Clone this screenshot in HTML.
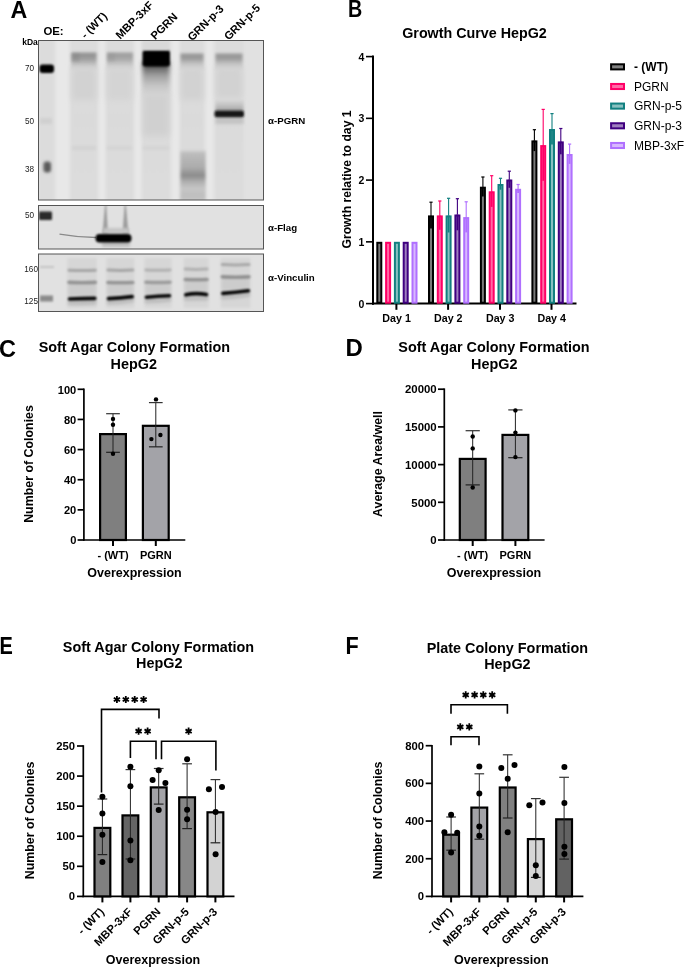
<!DOCTYPE html>
<html><head><meta charset="utf-8"><style>
html,body{margin:0;padding:0;background:#fff;}
body{width:685px;height:967px;overflow:hidden;}
svg{display:block;font-family:"Liberation Sans", sans-serif;will-change:transform;}
</style></head><body>
<svg width="685" height="967" viewBox="0 0 685 967" font-family='"Liberation Sans", sans-serif'>
<rect width="685" height="967" fill="#fff"/>
<text transform="translate(10.4,17.7) scale(0.99,1)" font-size="23.5" font-weight="bold">A</text>
<text transform="translate(348.0,16.8) scale(0.84,1)" font-size="23.5" font-weight="bold">B</text>
<text transform="translate(-1.1,357.0) scale(1.0,1)" font-size="23.5" font-weight="bold">C</text>
<text transform="translate(345.6,355.8) scale(1.02,1)" font-size="23.5" font-weight="bold">D</text>
<text transform="translate(-0.6,653.9) scale(0.85,1)" font-size="23.5" font-weight="bold">E</text>
<text transform="translate(345.6,653.9) scale(0.92,1)" font-size="23.5" font-weight="bold">F</text>
<defs><filter id="b1" filterUnits="userSpaceOnUse" x="0" y="0" width="685" height="967"><feGaussianBlur stdDeviation="1"/></filter><filter id="b2" filterUnits="userSpaceOnUse" x="0" y="0" width="685" height="967"><feGaussianBlur stdDeviation="2"/></filter><filter id="b3" filterUnits="userSpaceOnUse" x="0" y="0" width="685" height="967"><feGaussianBlur stdDeviation="3.5"/></filter><filter id="b05" filterUnits="userSpaceOnUse" x="0" y="0" width="685" height="967"><feGaussianBlur stdDeviation="0.6"/></filter><clipPath id="c1"><rect x="38.5" y="40.5" width="225" height="159.5"/></clipPath><clipPath id="c2"><rect x="38.5" y="205.5" width="225" height="43.5"/></clipPath><clipPath id="c3"><rect x="38.5" y="254" width="225" height="57.5"/></clipPath></defs>
<defs><filter id="g0_5" filterUnits="userSpaceOnUse" x="0" y="0" width="685" height="967"><feGaussianBlur stdDeviation="0.5"/></filter><filter id="g0_8" filterUnits="userSpaceOnUse" x="0" y="0" width="685" height="967"><feGaussianBlur stdDeviation="0.8"/></filter><filter id="g1_0" filterUnits="userSpaceOnUse" x="0" y="0" width="685" height="967"><feGaussianBlur stdDeviation="1.0"/></filter><filter id="g1_5" filterUnits="userSpaceOnUse" x="0" y="0" width="685" height="967"><feGaussianBlur stdDeviation="1.5"/></filter><filter id="g2_0" filterUnits="userSpaceOnUse" x="0" y="0" width="685" height="967"><feGaussianBlur stdDeviation="2.0"/></filter><filter id="g3_0" filterUnits="userSpaceOnUse" x="0" y="0" width="685" height="967"><feGaussianBlur stdDeviation="3.0"/></filter><filter id="g4_0" filterUnits="userSpaceOnUse" x="0" y="0" width="685" height="967"><feGaussianBlur stdDeviation="4.0"/></filter></defs>
<rect x="38.5" y="40.5" width="225" height="159.5" fill="#e1e1e1" stroke="none" stroke-width="0" />
<g clip-path="url(#c1)">
<defs><linearGradient id="ln" x1="0" y1="0" x2="0" y2="1"><stop offset="0" stop-color="#dcdcdc"/><stop offset="0.5" stop-color="#dadada"/><stop offset="1" stop-color="#dcdcdc"/></linearGradient></defs>
<rect x="70.5" y="38" width="27.0" height="165" rx="0" fill="url(#ln)" opacity="1" filter="url(#g1_5)"/>
<rect x="106" y="38" width="27.5" height="165" rx="0" fill="url(#ln)" opacity="1" filter="url(#g1_5)"/>
<rect x="142" y="38" width="28" height="165" rx="0" fill="url(#ln)" opacity="1" filter="url(#g1_5)"/>
<rect x="180" y="38" width="24" height="165" rx="0" fill="url(#ln)" opacity="1" filter="url(#g1_5)"/>
<rect x="215" y="38" width="28.5" height="165" rx="0" fill="url(#ln)" opacity="1" filter="url(#g1_5)"/>
<rect x="56" y="38" width="13" height="165" rx="0" fill="#e8e8e8" opacity="1" filter="url(#g1_5)"/>
<rect x="99" y="38" width="6" height="165" rx="0" fill="#e8e8e8" opacity="1" filter="url(#g1_5)"/>
<rect x="135" y="38" width="6" height="165" rx="0" fill="#e8e8e8" opacity="1" filter="url(#g1_5)"/>
<rect x="172" y="38" width="7" height="165" rx="0" fill="#e8e8e8" opacity="1" filter="url(#g1_5)"/>
<rect x="206" y="38" width="7" height="165" rx="0" fill="#e8e8e8" opacity="1" filter="url(#g1_5)"/>
<rect x="39" y="38" width="15" height="165" rx="0" fill="#dcdcdc" opacity="1" filter="url(#g1_5)"/>
<defs><filter id="g1_1" filterUnits="userSpaceOnUse" x="0" y="0" width="685" height="967"><feGaussianBlur stdDeviation="1.1"/></filter></defs>
<rect x="39.5" y="64.5" width="14.5" height="8.5" rx="3" fill="#000" opacity="1" filter="url(#g1_1)"/>
<rect x="40" y="118" width="12" height="6" rx="0" fill="#d0d0d0" opacity="1" filter="url(#g1_5)"/>
<defs><filter id="g1_6" filterUnits="userSpaceOnUse" x="0" y="0" width="685" height="967"><feGaussianBlur stdDeviation="1.6"/></filter></defs>
<rect x="43.5" y="161.5" width="7.5" height="11" rx="3" fill="#5a5a5a" opacity="1" filter="url(#g1_6)"/>
<defs><linearGradient id="sm1" x1="0" y1="0" x2="0" y2="1"><stop offset="0" stop-color="#929292"/><stop offset="0.3" stop-color="#989898"/><stop offset="0.55" stop-color="#b4b4b4"/><stop offset="0.8" stop-color="#cecece"/><stop offset="1" stop-color="#d8d8d8"/></linearGradient></defs>
<rect x="71.5" y="52.5" width="25" height="18" rx="0" fill="url(#sm1)" opacity="1" filter="url(#g1_6)"/>
<defs><filter id="g1_8" filterUnits="userSpaceOnUse" x="0" y="0" width="685" height="967"><feGaussianBlur stdDeviation="1.8"/></filter></defs>
<rect x="71.5" y="53.5" width="8" height="8" rx="0" fill="#7a7a7a" opacity="0.3" filter="url(#g1_8)"/>
<defs><linearGradient id="sm2" x1="0" y1="0" x2="0" y2="1"><stop offset="0" stop-color="#9e9e9e"/><stop offset="0.3" stop-color="#a4a4a4"/><stop offset="0.55" stop-color="#bcbcbc"/><stop offset="0.8" stop-color="#d0d0d0"/><stop offset="1" stop-color="#d8d8d8"/></linearGradient></defs>
<rect x="107" y="52.5" width="26" height="18" rx="0" fill="url(#sm2)" opacity="1" filter="url(#g1_6)"/>
<rect x="107" y="53.5" width="8" height="8" rx="0" fill="#8a8a8a" opacity="0.25" filter="url(#g1_8)"/>
<rect x="72" y="68" width="24" height="32" rx="0" fill="#d2d2d2" opacity="1" filter="url(#g3_0)"/>
<rect x="107" y="68" width="25" height="32" rx="0" fill="#d4d4d4" opacity="1" filter="url(#g3_0)"/>
<rect x="72" y="146" width="24" height="4" rx="0" fill="#d2d2d2" opacity="1" filter="url(#g1_5)"/>
<rect x="107" y="146" width="25" height="4" rx="0" fill="#d4d4d4" opacity="1" filter="url(#g1_5)"/>
<rect x="143" y="146" width="26" height="4" rx="0" fill="#d4d4d4" opacity="1" filter="url(#g1_5)"/>
<defs><linearGradient id="sm3" x1="0" y1="0" x2="0" y2="1"><stop offset="0" stop-color="#3a3a3a"/><stop offset="0.15" stop-color="#606060"/><stop offset="0.4" stop-color="#a0a0a0"/><stop offset="0.7" stop-color="#c6c6c6"/><stop offset="1" stop-color="#d6d6d6"/></linearGradient></defs>
<rect x="142.5" y="62" width="27" height="34" rx="0" fill="url(#sm3)" opacity="1" filter="url(#g2_0)"/>
<rect x="143" y="94" width="26" height="42" rx="0" fill="#d0d0d0" opacity="1" filter="url(#g3_0)"/>
<defs><filter id="g1_2" filterUnits="userSpaceOnUse" x="0" y="0" width="685" height="967"><feGaussianBlur stdDeviation="1.2"/></filter></defs>
<rect x="142.5" y="50" width="27.5" height="16.5" rx="3" fill="#000" opacity="1" filter="url(#g1_2)"/>
<rect x="143" y="41" width="26" height="9" rx="0" fill="#d8d8d8" opacity="1" filter="url(#g1_5)"/>
<defs><linearGradient id="sm4" x1="0" y1="0" x2="0" y2="1"><stop offset="0" stop-color="#959595"/><stop offset="0.3" stop-color="#9c9c9c"/><stop offset="0.55" stop-color="#bcbcbc"/><stop offset="0.8" stop-color="#cecece"/><stop offset="1" stop-color="#d8d8d8"/></linearGradient></defs>
<rect x="180.5" y="53.5" width="23" height="17" rx="0" fill="url(#sm4)" opacity="1" filter="url(#g1_6)"/>
<rect x="181" y="68" width="22" height="32" rx="0" fill="#d2d2d2" opacity="1" filter="url(#g3_0)"/>
<defs><linearGradient id="sm4b" x1="0" y1="0" x2="0" y2="1"><stop offset="0" stop-color="#d8d8d8"/><stop offset="0.06" stop-color="#bcbcbc"/><stop offset="0.35" stop-color="#ababab"/><stop offset="0.5" stop-color="#8a8a8a"/><stop offset="0.62" stop-color="#aeaeae"/><stop offset="0.75" stop-color="#c6c6c6"/><stop offset="0.9" stop-color="#bebebe"/><stop offset="1" stop-color="#c6c6c6"/></linearGradient></defs>
<rect x="180.5" y="150" width="25" height="51" rx="0" fill="url(#sm4b)" opacity="1" filter="url(#g1_5)"/>
<rect x="215.5" y="53.5" width="27" height="17" rx="0" fill="url(#sm4)" opacity="1" filter="url(#g1_6)"/>
<rect x="216" y="68" width="26" height="30" rx="0" fill="#d2d2d2" opacity="1" filter="url(#g3_0)"/>
<defs><linearGradient id="sm5" x1="0" y1="0" x2="0" y2="1"><stop offset="0" stop-color="#d8d8d8"/><stop offset="0.5" stop-color="#c0c0c0"/><stop offset="1" stop-color="#a4a4a4"/></linearGradient></defs>
<rect x="215.5" y="100" width="28" height="11" rx="0" fill="url(#sm5)" opacity="1" filter="url(#g1_5)"/>
<rect x="215.5" y="117" width="28" height="7" rx="0" fill="#c4c4c4" opacity="1" filter="url(#g1_5)"/>
<defs><filter id="g1_3" filterUnits="userSpaceOnUse" x="0" y="0" width="685" height="967"><feGaussianBlur stdDeviation="1.3"/></filter></defs>
<rect x="214.5" y="110.5" width="29.5" height="6.8" rx="2" fill="#151515" opacity="1" filter="url(#g1_3)"/>
</g>
<rect x="38.5" y="40.5" width="225" height="159.5" fill="none" stroke="#555" stroke-width="1" />
<rect x="38.5" y="205.5" width="225" height="43.5" fill="#e1e1e1" stroke="none" stroke-width="0" />
<g clip-path="url(#c2)">
<rect x="39" y="211.5" width="13" height="8.5" rx="1" fill="#2a2a2a" opacity="1" filter="url(#g1_0)"/>
<path d="M59.5 234.2 Q78 237.5 96 237.5" stroke="#8a8a8a" stroke-width="1.3" fill="none" filter="url(#g0_5)"/>
<path d="M105 205 L106.3 205 L108 234 L102.5 234 Z" fill="#9c9c9c" filter="url(#g0_8)"/>
<path d="M124.6 205 L125.9 205 L128.5 234 L122.5 234 Z" fill="#9c9c9c" filter="url(#g0_8)"/>
<rect x="103" y="228" width="26" height="6" rx="0" fill="#c4c4c4" opacity="1" filter="url(#g1_5)"/>
<rect x="102" y="241" width="28" height="6" rx="0" fill="#c0c0c0" opacity="1" filter="url(#g1_5)"/>
<rect x="95.5" y="234" width="36" height="8.5" rx="4" fill="#000" filter="url(#g0_8)"/>
</g>
<rect x="38.5" y="205.5" width="225" height="43.5" fill="none" stroke="#555" stroke-width="1" />
<rect x="38.5" y="254" width="225" height="57.5" fill="#e1e1e1" stroke="none" stroke-width="0" />
<g clip-path="url(#c3)">
<rect x="40" y="295.5" width="13" height="6" rx="0" fill="#8a8a8a" opacity="1" filter="url(#g1_2)"/>
<rect x="40" y="266" width="14" height="2" rx="0" fill="#c4c4c4" opacity="1" filter="url(#g1_0)"/>
<rect x="67.5" y="258" width="29.299999999999997" height="50" rx="0" fill="#d6d6d6" opacity="1" filter="url(#g1_5)"/>
<rect x="68.5" y="284.4" width="27.299999999999997" height="12.300000000000011" rx="0" fill="#cccccc" opacity="1" filter="url(#g1_5)"/>
<path d="M69.0 270.2 Q82.15 271.0 95.3 270.2" stroke="#a4a4a4" stroke-width="3.0" fill="none" opacity="1" stroke-linecap="round" filter="url(#g1_1)"/>
<path d="M69.0 282.4 Q82.15 283.0 95.3 282.4" stroke="#939393" stroke-width="3.6" fill="none" opacity="1" stroke-linecap="round" filter="url(#g1_1)"/>
<path d="M69.5 303.0 Q82.15 303.6 94.8 302.4" stroke="#bcbcbc" stroke-width="4" fill="none" opacity="1" stroke-linecap="round" filter="url(#g1_5)"/>
<path d="M69.5 299.0 Q82.15 298.50000000000006 94.8 298.4" stroke="#000" stroke-width="3.6" fill="none" opacity="1" stroke-linecap="round" filter="url(#g0_8)"/>
<rect x="106.5" y="258" width="27.69999999999999" height="50" rx="0" fill="#d6d6d6" opacity="1" filter="url(#g1_5)"/>
<rect x="107.5" y="284.5" width="25.69999999999999" height="11.100000000000023" rx="0" fill="#cccccc" opacity="1" filter="url(#g1_5)"/>
<path d="M108.0 270.0 Q120.35 270.8 132.7 270.0" stroke="#a4a4a4" stroke-width="3.0" fill="none" opacity="1" stroke-linecap="round" filter="url(#g1_1)"/>
<path d="M108.0 282.5 Q120.35 283.1 132.7 282.5" stroke="#939393" stroke-width="3.6" fill="none" opacity="1" stroke-linecap="round" filter="url(#g1_1)"/>
<path d="M108.5 302.6 Q120.35 302.8 132.2 300.6" stroke="#bcbcbc" stroke-width="4" fill="none" opacity="1" stroke-linecap="round" filter="url(#g1_5)"/>
<path d="M108.5 298.6 Q120.35 298.0 132.2 296.6" stroke="#000" stroke-width="3.6" fill="none" opacity="1" stroke-linecap="round" filter="url(#g0_8)"/>
<rect x="144.4" y="258" width="27.099999999999994" height="50" rx="0" fill="#d6d6d6" opacity="1" filter="url(#g1_5)"/>
<rect x="145.4" y="284.2" width="25.099999999999994" height="10.300000000000011" rx="0" fill="#cccccc" opacity="1" filter="url(#g1_5)"/>
<path d="M145.9 269.9 Q157.95 270.7 170.0 269.9" stroke="#b0b0b0" stroke-width="3.0" fill="none" opacity="1" stroke-linecap="round" filter="url(#g1_1)"/>
<path d="M145.9 282.2 Q157.95 282.8 170.0 282.2" stroke="#9a9a9a" stroke-width="3.6" fill="none" opacity="1" stroke-linecap="round" filter="url(#g1_1)"/>
<path d="M146.4 301.2 Q157.95 301.4 169.5 299.8" stroke="#bcbcbc" stroke-width="4" fill="none" opacity="1" stroke-linecap="round" filter="url(#g1_5)"/>
<path d="M146.4 297.2 Q157.95 296.29999999999995 169.5 295.8" stroke="#000" stroke-width="3.6" fill="none" opacity="1" stroke-linecap="round" filter="url(#g0_8)"/>
<rect x="183.8" y="258" width="24.69999999999999" height="50" rx="0" fill="#d6d6d6" opacity="1" filter="url(#g1_5)"/>
<rect x="184.8" y="281.5" width="22.69999999999999" height="11.200000000000045" rx="0" fill="#cccccc" opacity="1" filter="url(#g1_5)"/>
<path d="M185.3 269.0 Q196.15 269.8 207.0 269.0" stroke="#b0b0b0" stroke-width="3.0" fill="none" opacity="1" stroke-linecap="round" filter="url(#g1_1)"/>
<path d="M185.3 279.5 Q196.15 280.1 207.0 279.5" stroke="#929292" stroke-width="3.6" fill="none" opacity="1" stroke-linecap="round" filter="url(#g1_1)"/>
<path d="M185.8 298.8 Q196.15 298.6 206.5 298.6" stroke="#bcbcbc" stroke-width="4" fill="none" opacity="1" stroke-linecap="round" filter="url(#g1_5)"/>
<path d="M185.8 294.8 Q196.15 292.5 206.5 294.6" stroke="#000" stroke-width="3.6" fill="none" opacity="1" stroke-linecap="round" filter="url(#g0_8)"/>
<rect x="220.8" y="258" width="29.599999999999994" height="50" rx="0" fill="#d6d6d6" opacity="1" filter="url(#g1_5)"/>
<rect x="221.8" y="278.9" width="27.599999999999994" height="11.200000000000045" rx="0" fill="#cccccc" opacity="1" filter="url(#g1_5)"/>
<path d="M222.3 264.6 Q235.60000000000002 265.40000000000003 248.9 264.6" stroke="#a8a8a8" stroke-width="3.0" fill="none" opacity="1" stroke-linecap="round" filter="url(#g1_1)"/>
<path d="M222.3 276.9 Q235.60000000000002 277.5 248.9 276.9" stroke="#909090" stroke-width="3.6" fill="none" opacity="1" stroke-linecap="round" filter="url(#g1_1)"/>
<path d="M222.8 297.4 Q235.60000000000002 297.4 248.4 294.8" stroke="#bcbcbc" stroke-width="4" fill="none" opacity="1" stroke-linecap="round" filter="url(#g1_5)"/>
<path d="M222.8 293.4 Q235.60000000000002 292.69999999999993 248.4 290.8" stroke="#000" stroke-width="3.6" fill="none" opacity="1" stroke-linecap="round" filter="url(#g0_8)"/>
</g>
<rect x="38.5" y="254" width="225" height="57.5" fill="none" stroke="#555" stroke-width="1" />
<text x="43.4" y="35.1" font-size="11.4" font-weight="bold" text-anchor="start" fill="#000" >OE:</text>
<text x="22.2" y="45.2" font-size="8.5" font-weight="bold" text-anchor="start" fill="#000" >kDa</text>
<text x="25" y="70.8" font-size="8.2" font-weight="normal" text-anchor="start" fill="#222" >70</text>
<text x="25" y="124" font-size="8.2" font-weight="normal" text-anchor="start" fill="#222" >50</text>
<text x="25" y="171.5" font-size="8.2" font-weight="normal" text-anchor="start" fill="#222" >38</text>
<text x="25" y="218.3" font-size="8.2" font-weight="normal" text-anchor="start" fill="#222" >50</text>
<text x="24.3" y="272" font-size="8.2" font-weight="normal" text-anchor="start" fill="#222" >160</text>
<text x="24.3" y="304" font-size="8.2" font-weight="normal" text-anchor="start" fill="#222" >125</text>
<text x="107.8" y="16.8" font-size="11.2" font-weight="bold" text-anchor="end" fill="#000" transform="rotate(-45 107.8 16.8)">- (WT)</text>
<text x="154" y="5.8" font-size="11.2" font-weight="bold" text-anchor="end" fill="#000" transform="rotate(-45 154 5.8)">MBP-3xF</text>
<text x="178.1" y="17.5" font-size="11.2" font-weight="bold" text-anchor="end" fill="#000" transform="rotate(-45 178.1 17.5)">PGRN</text>
<text x="224.3" y="9.5" font-size="11.2" font-weight="bold" text-anchor="end" fill="#000" transform="rotate(-45 224.3 9.5)">GRN-p-3</text>
<text x="260.8" y="8.7" font-size="11.2" font-weight="bold" text-anchor="end" fill="#000" transform="rotate(-45 260.8 8.7)">GRN-p-5</text>
<text x="268.0" y="124.0" font-size="9.7" font-weight="bold" text-anchor="start" fill="#000" >&#945;-PGRN</text>
<text x="268.0" y="231.3" font-size="9.7" font-weight="bold" text-anchor="start" fill="#000" >&#945;-Flag</text>
<text x="268.0" y="281.3" font-size="9.7" font-weight="bold" text-anchor="start" fill="#000" >&#945;-Vinculin</text>
<text x="474.5" y="37.8" font-size="14.3" font-weight="bold" text-anchor="middle" fill="#000" >Growth Curve HepG2</text>
<line x1="373" y1="55.5" x2="373" y2="304.7" stroke="#000" stroke-width="2" />
<line x1="366" y1="303.6" x2="373" y2="303.6" stroke="#000" stroke-width="1.6" />
<text x="364.4" y="307.5" font-size="10.5" font-weight="bold" text-anchor="end" fill="#000" >0</text>
<line x1="366" y1="241.85000000000002" x2="373" y2="241.85000000000002" stroke="#000" stroke-width="1.6" />
<text x="364.4" y="245.75000000000003" font-size="10.5" font-weight="bold" text-anchor="end" fill="#000" >1</text>
<line x1="366" y1="180.10000000000002" x2="373" y2="180.10000000000002" stroke="#000" stroke-width="1.6" />
<text x="364.4" y="184.00000000000003" font-size="10.5" font-weight="bold" text-anchor="end" fill="#000" >2</text>
<line x1="366" y1="118.35000000000002" x2="373" y2="118.35000000000002" stroke="#000" stroke-width="1.6" />
<text x="364.4" y="122.25000000000003" font-size="10.5" font-weight="bold" text-anchor="end" fill="#000" >3</text>
<line x1="366" y1="56.60000000000002" x2="373" y2="56.60000000000002" stroke="#000" stroke-width="1.6" />
<text x="364.4" y="60.50000000000002" font-size="10.5" font-weight="bold" text-anchor="end" fill="#000" >4</text>
<line x1="372" y1="303.6" x2="576.5" y2="303.6" stroke="#000" stroke-width="2" />
<line x1="396.4" y1="303.6" x2="396.4" y2="309.8" stroke="#000" stroke-width="2" />
<text x="396.59999999999997" y="321.5" font-size="10.7" font-weight="bold" text-anchor="middle" fill="#000" >Day 1</text>
<line x1="448.1" y1="303.6" x2="448.1" y2="309.8" stroke="#000" stroke-width="2" />
<text x="448.3" y="321.5" font-size="10.7" font-weight="bold" text-anchor="middle" fill="#000" >Day 2</text>
<line x1="500.0" y1="303.6" x2="500.0" y2="309.8" stroke="#000" stroke-width="2" />
<text x="500.2" y="321.5" font-size="10.7" font-weight="bold" text-anchor="middle" fill="#000" >Day 3</text>
<line x1="551.5" y1="303.6" x2="551.5" y2="309.8" stroke="#000" stroke-width="2" />
<text x="551.7" y="321.5" font-size="10.7" font-weight="bold" text-anchor="middle" fill="#000" >Day 4</text>
<text transform="translate(351,179.5) rotate(-90)" font-size="12.2" font-weight="bold" text-anchor="middle">Growth relative to day 1</text>
<rect x="377.29999999999995" y="242.8" width="4.0" height="59.89999999999998" fill="#7a7a7a" stroke="#000" stroke-width="2.0" />
<rect x="386.09999999999997" y="242.8" width="4.0" height="59.89999999999998" fill="#ff6aa6" stroke="#ff0066" stroke-width="2.0" />
<rect x="394.9" y="242.8" width="4.0" height="59.89999999999998" fill="#89c0c0" stroke="#128080" stroke-width="2.0" />
<rect x="403.7" y="242.8" width="4.0" height="59.89999999999998" fill="#9f80bf" stroke="#400080" stroke-width="2.0" />
<rect x="412.5" y="242.8" width="4.0" height="59.89999999999998" fill="#d8b8ff" stroke="#b070ff" stroke-width="2.0" />
<rect x="429.0" y="216.4" width="4.0" height="86.29999999999998" fill="#7a7a7a" stroke="#000" stroke-width="2.0" />
<line x1="431.0" y1="202.2" x2="431.0" y2="215.4" stroke="#000" stroke-width="1.1" />
<line x1="431.0" y1="215.4" x2="431.0" y2="228.60000000000002" stroke="#000" stroke-width="1.8" />
<line x1="429.4" y1="202.2" x2="432.6" y2="202.2" stroke="#000" stroke-width="1.2" />
<rect x="437.8" y="216.4" width="4.0" height="86.29999999999998" fill="#ff6aa6" stroke="#ff0066" stroke-width="2.0" />
<line x1="439.8" y1="201.0" x2="439.8" y2="215.4" stroke="#ff0066" stroke-width="1.1" />
<line x1="439.8" y1="215.4" x2="439.8" y2="229.8" stroke="#ff0066" stroke-width="1.8" />
<line x1="438.2" y1="201.0" x2="441.40000000000003" y2="201.0" stroke="#ff0066" stroke-width="1.2" />
<rect x="446.6" y="216.4" width="4.0" height="86.29999999999998" fill="#89c0c0" stroke="#128080" stroke-width="2.0" />
<line x1="448.6" y1="198.3" x2="448.6" y2="215.4" stroke="#128080" stroke-width="1.1" />
<line x1="448.6" y1="215.4" x2="448.6" y2="232.5" stroke="#128080" stroke-width="1.8" />
<line x1="447.0" y1="198.3" x2="450.20000000000005" y2="198.3" stroke="#128080" stroke-width="1.2" />
<rect x="455.40000000000003" y="215.5" width="4.0" height="87.19999999999999" fill="#9f80bf" stroke="#400080" stroke-width="2.0" />
<line x1="457.40000000000003" y1="198.7" x2="457.40000000000003" y2="214.5" stroke="#400080" stroke-width="1.1" />
<line x1="457.40000000000003" y1="214.5" x2="457.40000000000003" y2="230.3" stroke="#400080" stroke-width="1.8" />
<line x1="455.8" y1="198.7" x2="459.00000000000006" y2="198.7" stroke="#400080" stroke-width="1.2" />
<rect x="464.20000000000005" y="218.1" width="4.0" height="84.6" fill="#d8b8ff" stroke="#b070ff" stroke-width="2.0" />
<line x1="466.20000000000005" y1="201.8" x2="466.20000000000005" y2="217.1" stroke="#b070ff" stroke-width="1.1" />
<line x1="466.20000000000005" y1="217.1" x2="466.20000000000005" y2="232.39999999999998" stroke="#b070ff" stroke-width="1.8" />
<line x1="464.6" y1="201.8" x2="467.80000000000007" y2="201.8" stroke="#b070ff" stroke-width="1.2" />
<rect x="480.9" y="187.7" width="4.0" height="115.0" fill="#7a7a7a" stroke="#000" stroke-width="2.0" />
<line x1="482.9" y1="177.0" x2="482.9" y2="186.7" stroke="#000" stroke-width="1.1" />
<line x1="482.9" y1="186.7" x2="482.9" y2="196.39999999999998" stroke="#000" stroke-width="1.8" />
<line x1="481.29999999999995" y1="177.0" x2="484.5" y2="177.0" stroke="#000" stroke-width="1.2" />
<rect x="489.7" y="192.3" width="4.0" height="110.39999999999998" fill="#ff6aa6" stroke="#ff0066" stroke-width="2.0" />
<line x1="491.7" y1="175.7" x2="491.7" y2="191.3" stroke="#ff0066" stroke-width="1.1" />
<line x1="491.7" y1="191.3" x2="491.7" y2="206.90000000000003" stroke="#ff0066" stroke-width="1.8" />
<line x1="490.09999999999997" y1="175.7" x2="493.3" y2="175.7" stroke="#ff0066" stroke-width="1.2" />
<rect x="498.5" y="185.0" width="4.0" height="117.69999999999999" fill="#89c0c0" stroke="#128080" stroke-width="2.0" />
<line x1="500.5" y1="178.3" x2="500.5" y2="184.0" stroke="#128080" stroke-width="1.1" />
<line x1="500.5" y1="184.0" x2="500.5" y2="189.7" stroke="#128080" stroke-width="1.8" />
<line x1="498.9" y1="178.3" x2="502.1" y2="178.3" stroke="#128080" stroke-width="1.2" />
<rect x="507.3" y="180.5" width="4.0" height="122.19999999999999" fill="#9f80bf" stroke="#400080" stroke-width="2.0" />
<line x1="509.3" y1="171.2" x2="509.3" y2="179.5" stroke="#400080" stroke-width="1.1" />
<line x1="509.3" y1="179.5" x2="509.3" y2="187.8" stroke="#400080" stroke-width="1.8" />
<line x1="507.7" y1="171.2" x2="510.90000000000003" y2="171.2" stroke="#400080" stroke-width="1.2" />
<rect x="516.1" y="189.8" width="4.0" height="112.89999999999998" fill="#d8b8ff" stroke="#b070ff" stroke-width="2.0" />
<line x1="518.1" y1="184.5" x2="518.1" y2="188.8" stroke="#b070ff" stroke-width="1.1" />
<line x1="518.1" y1="188.8" x2="518.1" y2="193.10000000000002" stroke="#b070ff" stroke-width="1.8" />
<line x1="516.5" y1="184.5" x2="519.7" y2="184.5" stroke="#b070ff" stroke-width="1.2" />
<rect x="532.4" y="141.4" width="4.0" height="161.29999999999998" fill="#7a7a7a" stroke="#000" stroke-width="2.0" />
<line x1="534.4" y1="129.7" x2="534.4" y2="140.4" stroke="#000" stroke-width="1.1" />
<line x1="534.4" y1="140.4" x2="534.4" y2="151.10000000000002" stroke="#000" stroke-width="1.8" />
<line x1="532.8" y1="129.7" x2="536.0" y2="129.7" stroke="#000" stroke-width="1.2" />
<rect x="541.2" y="146.1" width="4.0" height="156.6" fill="#ff6aa6" stroke="#ff0066" stroke-width="2.0" />
<line x1="543.2" y1="109.4" x2="543.2" y2="145.1" stroke="#ff0066" stroke-width="1.1" />
<line x1="543.2" y1="145.1" x2="543.2" y2="180.79999999999998" stroke="#ff0066" stroke-width="1.8" />
<line x1="541.6" y1="109.4" x2="544.8000000000001" y2="109.4" stroke="#ff0066" stroke-width="1.2" />
<rect x="550.0" y="130.0" width="4.0" height="172.7" fill="#89c0c0" stroke="#128080" stroke-width="2.0" />
<line x1="552.0" y1="113.6" x2="552.0" y2="129.0" stroke="#128080" stroke-width="1.1" />
<line x1="552.0" y1="129.0" x2="552.0" y2="144.4" stroke="#128080" stroke-width="1.8" />
<line x1="550.4" y1="113.6" x2="553.6" y2="113.6" stroke="#128080" stroke-width="1.2" />
<rect x="558.8" y="142.4" width="4.0" height="160.29999999999998" fill="#9f80bf" stroke="#400080" stroke-width="2.0" />
<line x1="560.8" y1="128.5" x2="560.8" y2="141.4" stroke="#400080" stroke-width="1.1" />
<line x1="560.8" y1="141.4" x2="560.8" y2="154.3" stroke="#400080" stroke-width="1.8" />
<line x1="559.1999999999999" y1="128.5" x2="562.4" y2="128.5" stroke="#400080" stroke-width="1.2" />
<rect x="567.6" y="155.0" width="4.0" height="147.7" fill="#d8b8ff" stroke="#b070ff" stroke-width="2.0" />
<line x1="569.6" y1="144.1" x2="569.6" y2="154.0" stroke="#b070ff" stroke-width="1.1" />
<line x1="569.6" y1="154.0" x2="569.6" y2="163.9" stroke="#b070ff" stroke-width="1.8" />
<line x1="568.0" y1="144.1" x2="571.2" y2="144.1" stroke="#b070ff" stroke-width="1.2" />
<rect x="611.1" y="64.3" width="12.9" height="5.1" fill="#808080" stroke="#000" stroke-width="2" />
<text x="634.0" y="71.05" font-size="12" font-weight="bold" text-anchor="start" fill="#000" >- (WT)</text>
<rect x="611.1" y="83.95" width="12.9" height="5.1" fill="#ff6aa6" stroke="#ff0066" stroke-width="2" />
<text x="634.0" y="90.7" font-size="12" font-weight="normal" text-anchor="start" fill="#000" >PGRN</text>
<rect x="611.1" y="103.55" width="12.9" height="5.1" fill="#89c0c0" stroke="#128080" stroke-width="2" />
<text x="634.0" y="110.3" font-size="12" font-weight="normal" text-anchor="start" fill="#000" >GRN-p-5</text>
<rect x="611.1" y="123.25" width="12.9" height="5.1" fill="#9f80bf" stroke="#400080" stroke-width="2" />
<text x="634.0" y="130.0" font-size="12" font-weight="normal" text-anchor="start" fill="#000" >GRN-p-3</text>
<rect x="611.1" y="142.95" width="12.9" height="5.1" fill="#d8b8ff" stroke="#b070ff" stroke-width="2" />
<text x="634.0" y="149.7" font-size="12" font-weight="normal" text-anchor="start" fill="#000" >MBP-3xF</text>
<text x="134.3" y="352.3" font-size="14.4" font-weight="bold" text-anchor="middle" fill="#000" >Soft Agar Colony Formation</text>
<text x="133.8" y="369.4" font-size="14.4" font-weight="bold" text-anchor="middle" fill="#000" >HepG2</text>
<line x1="83.9" y1="388.5" x2="83.9" y2="540.8" stroke="#000" stroke-width="1.7" />
<line x1="77.60000000000001" y1="540.0" x2="83.9" y2="540.0" stroke="#000" stroke-width="1.7" />
<text x="76.30000000000001" y="544.2" font-size="11.1" font-weight="bold" text-anchor="end" fill="#000" >0</text>
<line x1="77.60000000000001" y1="509.86" x2="83.9" y2="509.86" stroke="#000" stroke-width="1.7" />
<text x="76.30000000000001" y="514.0600000000001" font-size="11.1" font-weight="bold" text-anchor="end" fill="#000" >20</text>
<line x1="77.60000000000001" y1="479.72" x2="83.9" y2="479.72" stroke="#000" stroke-width="1.7" />
<text x="76.30000000000001" y="483.92" font-size="11.1" font-weight="bold" text-anchor="end" fill="#000" >40</text>
<line x1="77.60000000000001" y1="449.58000000000004" x2="83.9" y2="449.58000000000004" stroke="#000" stroke-width="1.7" />
<text x="76.30000000000001" y="453.78000000000003" font-size="11.1" font-weight="bold" text-anchor="end" fill="#000" >60</text>
<line x1="77.60000000000001" y1="419.44" x2="83.9" y2="419.44" stroke="#000" stroke-width="1.7" />
<text x="76.30000000000001" y="423.64" font-size="11.1" font-weight="bold" text-anchor="end" fill="#000" >80</text>
<line x1="77.60000000000001" y1="389.3" x2="83.9" y2="389.3" stroke="#000" stroke-width="1.7" />
<text x="76.30000000000001" y="393.5" font-size="11.1" font-weight="bold" text-anchor="end" fill="#000" >100</text>
<line x1="83.10000000000001" y1="540" x2="185.3" y2="540" stroke="#000" stroke-width="1.7" />
<rect x="100.1" y="434.10300000000007" width="25.8" height="105.89699999999996" fill="#7f7f7f" stroke="#000" stroke-width="2.2" />
<line x1="113.0" y1="413.7" x2="113.0" y2="452.30600000000004" stroke="#222" stroke-width="1" />
<line x1="106.15" y1="413.7" x2="119.85" y2="413.7" stroke="#333" stroke-width="1.2" />
<line x1="106.15" y1="452.30600000000004" x2="119.85" y2="452.30600000000004" stroke="#222" stroke-width="1.2" />
<line x1="113.0" y1="540" x2="113.0" y2="546" stroke="#000" stroke-width="2" />
<circle cx="113.0" cy="418.9" r="2.2" fill="#000"/>
<circle cx="113.0" cy="424.8" r="2.2" fill="#000"/>
<circle cx="113.0" cy="453.7" r="2.2" fill="#000"/>
<rect x="142.9" y="425.8145" width="25.8" height="114.18550000000002" fill="#a3a3a8" stroke="#000" stroke-width="2.2" />
<line x1="155.8" y1="402.6" x2="155.8" y2="446.829" stroke="#222" stroke-width="1" />
<line x1="148.95000000000002" y1="402.6" x2="162.65" y2="402.6" stroke="#333" stroke-width="1.2" />
<line x1="148.95000000000002" y1="446.829" x2="162.65" y2="446.829" stroke="#222" stroke-width="1.2" />
<line x1="155.8" y1="540" x2="155.8" y2="546" stroke="#000" stroke-width="2" />
<circle cx="156.0" cy="399.4" r="2.2" fill="#000"/>
<circle cx="151.4" cy="439.1" r="2.2" fill="#000"/>
<circle cx="160.4" cy="435.0" r="2.2" fill="#000"/>
<text transform="translate(33.2,464) rotate(-90)" font-size="12.4" font-weight="bold" text-anchor="middle">Number of Colonies</text>
<text x="113.0" y="558.6" font-size="11" font-weight="bold" text-anchor="middle" fill="#000" >- (WT)</text>
<text x="155.8" y="558.6" font-size="11" font-weight="bold" text-anchor="middle" fill="#000" >PGRN</text>
<text x="134.5" y="577.4" font-size="12.5" font-weight="bold" text-anchor="middle" fill="#000" >Overexpression</text>
<text x="494.0" y="352.3" font-size="14.4" font-weight="bold" text-anchor="middle" fill="#000" >Soft Agar Colony Formation</text>
<text x="494.2" y="369.4" font-size="14.4" font-weight="bold" text-anchor="middle" fill="#000" >HepG2</text>
<line x1="444.3" y1="388.4" x2="444.3" y2="540.8" stroke="#000" stroke-width="1.7" />
<line x1="438.0" y1="540.0" x2="444.3" y2="540.0" stroke="#000" stroke-width="1.7" />
<text x="436.7" y="544.2" font-size="11.4" font-weight="bold" text-anchor="end" fill="#000" >0</text>
<line x1="438.0" y1="502.3" x2="444.3" y2="502.3" stroke="#000" stroke-width="1.7" />
<text x="436.7" y="506.5" font-size="11.4" font-weight="bold" text-anchor="end" fill="#000" >5000</text>
<line x1="438.0" y1="464.6" x2="444.3" y2="464.6" stroke="#000" stroke-width="1.7" />
<text x="436.7" y="468.8" font-size="11.4" font-weight="bold" text-anchor="end" fill="#000" >10000</text>
<line x1="438.0" y1="426.9" x2="444.3" y2="426.9" stroke="#000" stroke-width="1.7" />
<text x="436.7" y="431.09999999999997" font-size="11.4" font-weight="bold" text-anchor="end" fill="#000" >15000</text>
<line x1="438.0" y1="389.2" x2="444.3" y2="389.2" stroke="#000" stroke-width="1.7" />
<text x="436.7" y="393.4" font-size="11.4" font-weight="bold" text-anchor="end" fill="#000" >20000</text>
<line x1="443.5" y1="540.0" x2="544.6" y2="540.0" stroke="#000" stroke-width="1.7" />
<rect x="459.8" y="458.90000000000003" width="25.8" height="81.1" fill="#7f7f7f" stroke="#000" stroke-width="2.2" />
<line x1="472.7" y1="430.7" x2="472.7" y2="484.90000000000003" stroke="#222" stroke-width="1" />
<line x1="465.59999999999997" y1="430.7" x2="479.8" y2="430.7" stroke="#333" stroke-width="1.2" />
<line x1="465.59999999999997" y1="484.90000000000003" x2="479.8" y2="484.90000000000003" stroke="#222" stroke-width="1.2" />
<line x1="472.7" y1="540.0" x2="472.7" y2="546.0" stroke="#000" stroke-width="2" />
<circle cx="472.7" cy="436.5" r="2.2" fill="#000"/>
<circle cx="472.7" cy="448.4" r="2.2" fill="#000"/>
<circle cx="472.7" cy="487.5" r="2.2" fill="#000"/>
<rect x="502.5" y="434.90000000000003" width="25.8" height="105.1" fill="#a3a3a8" stroke="#000" stroke-width="2.2" />
<line x1="515.4" y1="409.9" x2="515.4" y2="457.70000000000005" stroke="#222" stroke-width="1" />
<line x1="508.29999999999995" y1="409.9" x2="522.5" y2="409.9" stroke="#333" stroke-width="1.2" />
<line x1="508.29999999999995" y1="457.70000000000005" x2="522.5" y2="457.70000000000005" stroke="#222" stroke-width="1.2" />
<line x1="515.4" y1="540.0" x2="515.4" y2="546.0" stroke="#000" stroke-width="2" />
<circle cx="515.4" cy="410.4" r="2.2" fill="#000"/>
<circle cx="515.4" cy="432.6" r="2.2" fill="#000"/>
<circle cx="515.4" cy="457.1" r="2.2" fill="#000"/>
<text transform="translate(381.5,464) rotate(-90)" font-size="12.4" font-weight="bold" text-anchor="middle">Average Area/well</text>
<text x="472.7" y="558.6" font-size="11" font-weight="bold" text-anchor="middle" fill="#000" >- (WT)</text>
<text x="515.4" y="558.6" font-size="11" font-weight="bold" text-anchor="middle" fill="#000" >PGRN</text>
<text x="494" y="576.9" font-size="12.5" font-weight="bold" text-anchor="middle" fill="#000" >Overexpression</text>
<text x="158.5" y="652.2" font-size="14.4" font-weight="bold" text-anchor="middle" fill="#000" >Soft Agar Colony Formation</text>
<text x="159.2" y="668.4" font-size="14.4" font-weight="bold" text-anchor="middle" fill="#000" >HepG2</text>
<line x1="83.3" y1="745.2" x2="83.3" y2="897.1999999999999" stroke="#000" stroke-width="1.7" />
<line x1="77.0" y1="896.4" x2="83.3" y2="896.4" stroke="#000" stroke-width="1.7" />
<text x="75.0" y="900.4" font-size="11.3" font-weight="bold" text-anchor="end" fill="#000" >0</text>
<line x1="77.0" y1="866.3199999999999" x2="83.3" y2="866.3199999999999" stroke="#000" stroke-width="1.7" />
<text x="75.0" y="870.3199999999999" font-size="11.3" font-weight="bold" text-anchor="end" fill="#000" >50</text>
<line x1="77.0" y1="836.24" x2="83.3" y2="836.24" stroke="#000" stroke-width="1.7" />
<text x="75.0" y="840.24" font-size="11.3" font-weight="bold" text-anchor="end" fill="#000" >100</text>
<line x1="77.0" y1="806.16" x2="83.3" y2="806.16" stroke="#000" stroke-width="1.7" />
<text x="75.0" y="810.16" font-size="11.3" font-weight="bold" text-anchor="end" fill="#000" >150</text>
<line x1="77.0" y1="776.08" x2="83.3" y2="776.08" stroke="#000" stroke-width="1.7" />
<text x="75.0" y="780.08" font-size="11.3" font-weight="bold" text-anchor="end" fill="#000" >200</text>
<line x1="77.0" y1="746.0" x2="83.3" y2="746.0" stroke="#000" stroke-width="1.7" />
<text x="75.0" y="750.0" font-size="11.3" font-weight="bold" text-anchor="end" fill="#000" >250</text>
<line x1="82.5" y1="896.4" x2="234.5" y2="896.4" stroke="#000" stroke-width="1.7" />
<rect x="94.5" y="827.9" width="15.8" height="68.50000000000003" fill="#808080" stroke="#000" stroke-width="2.2" />
<line x1="102.4" y1="799.0" x2="102.4" y2="854.5999999999999" stroke="#222" stroke-width="1" />
<line x1="97.55000000000001" y1="799.0" x2="107.25" y2="799.0" stroke="#333" stroke-width="1.2" />
<line x1="97.55000000000001" y1="854.5999999999999" x2="107.25" y2="854.5999999999999" stroke="#222" stroke-width="1.2" />
<line x1="102.4" y1="896.4" x2="102.4" y2="902.4" stroke="#000" stroke-width="2" />
<circle cx="102.4" cy="796.8" r="3.0" fill="#000"/>
<circle cx="102.4" cy="813.4" r="3.0" fill="#000"/>
<circle cx="102.4" cy="834.8" r="3.0" fill="#000"/>
<circle cx="102.4" cy="862.0" r="3.0" fill="#000"/>
<rect x="122.5" y="815.4" width="15.8" height="81.00000000000003" fill="#656565" stroke="#000" stroke-width="2.2" />
<line x1="130.4" y1="769.6" x2="130.4" y2="858.9999999999999" stroke="#222" stroke-width="1" />
<line x1="125.55000000000001" y1="769.6" x2="135.25" y2="769.6" stroke="#333" stroke-width="1.2" />
<line x1="125.55000000000001" y1="858.9999999999999" x2="135.25" y2="858.9999999999999" stroke="#222" stroke-width="1.2" />
<line x1="130.4" y1="896.4" x2="130.4" y2="902.4" stroke="#000" stroke-width="2" />
<circle cx="130.4" cy="766.8" r="3.0" fill="#000"/>
<circle cx="130.4" cy="786.3" r="3.0" fill="#000"/>
<circle cx="130.4" cy="840.6" r="3.0" fill="#000"/>
<circle cx="130.4" cy="860.3" r="3.0" fill="#000"/>
<rect x="150.79999999999998" y="787.4" width="15.8" height="109.00000000000003" fill="#a3a3a7" stroke="#000" stroke-width="2.2" />
<line x1="158.7" y1="768.5" x2="158.7" y2="804.0999999999999" stroke="#222" stroke-width="1" />
<line x1="153.85" y1="768.5" x2="163.54999999999998" y2="768.5" stroke="#333" stroke-width="1.2" />
<line x1="153.85" y1="804.0999999999999" x2="163.54999999999998" y2="804.0999999999999" stroke="#222" stroke-width="1.2" />
<line x1="158.7" y1="896.4" x2="158.7" y2="902.4" stroke="#000" stroke-width="2" />
<circle cx="158.7" cy="770.2" r="3.0" fill="#000"/>
<circle cx="152.6" cy="779.9" r="3.0" fill="#000"/>
<circle cx="165.39999999999998" cy="782.9" r="3.0" fill="#000"/>
<circle cx="158.7" cy="810.1" r="3.0" fill="#000"/>
<rect x="179.2" y="797.3000000000001" width="15.8" height="99.09999999999994" fill="#878787" stroke="#000" stroke-width="2.2" />
<line x1="187.1" y1="763.8" x2="187.1" y2="828.6000000000001" stroke="#222" stroke-width="1" />
<line x1="182.25" y1="763.8" x2="191.95" y2="763.8" stroke="#333" stroke-width="1.2" />
<line x1="182.25" y1="828.6000000000001" x2="191.95" y2="828.6000000000001" stroke="#222" stroke-width="1.2" />
<line x1="187.1" y1="896.4" x2="187.1" y2="902.4" stroke="#000" stroke-width="2" />
<circle cx="187.1" cy="759.3" r="3.0" fill="#000"/>
<circle cx="187.1" cy="809.8" r="3.0" fill="#000"/>
<circle cx="187.1" cy="819.3" r="3.0" fill="#000"/>
<rect x="207.5" y="812.3000000000001" width="15.8" height="84.09999999999994" fill="#d3d3d3" stroke="#000" stroke-width="2.2" />
<line x1="215.4" y1="779.6" x2="215.4" y2="842.8000000000001" stroke="#222" stroke-width="1" />
<line x1="210.55" y1="779.6" x2="220.25" y2="779.6" stroke="#333" stroke-width="1.2" />
<line x1="210.55" y1="842.8000000000001" x2="220.25" y2="842.8000000000001" stroke="#222" stroke-width="1.2" />
<line x1="215.4" y1="896.4" x2="215.4" y2="902.4" stroke="#000" stroke-width="2" />
<circle cx="208.9" cy="789.3" r="3.0" fill="#000"/>
<circle cx="222.0" cy="787.1" r="3.0" fill="#000"/>
<circle cx="215.6" cy="812.0" r="3.0" fill="#000"/>
<circle cx="215.6" cy="854.2" r="3.0" fill="#000"/>
<text transform="translate(33.8,820.4) rotate(-90)" font-size="12.4" font-weight="bold" text-anchor="middle">Number of Colonies</text>
<text x="104.9" y="912.5" font-size="11.3" font-weight="bold" text-anchor="end" fill="#000" transform="rotate(-45 104.9 912.5)">- (WT)</text>
<text x="132.9" y="912.5" font-size="11.3" font-weight="bold" text-anchor="end" fill="#000" transform="rotate(-45 132.9 912.5)">MBP-3xF</text>
<text x="161.2" y="912.5" font-size="11.3" font-weight="bold" text-anchor="end" fill="#000" transform="rotate(-45 161.2 912.5)">PGRN</text>
<text x="189.6" y="912.5" font-size="11.3" font-weight="bold" text-anchor="end" fill="#000" transform="rotate(-45 189.6 912.5)">GRN-p-5</text>
<text x="217.9" y="912.5" font-size="11.3" font-weight="bold" text-anchor="end" fill="#000" transform="rotate(-45 217.9 912.5)">GRN-p-3</text>
<text x="153" y="964.0" font-size="12.5" font-weight="bold" text-anchor="middle" fill="#000" >Overexpression</text>
<path d="M101.5 792.6 V709.4 H159 V718.6" fill="none" stroke="#000" stroke-width="1.6"/>
<path d="M130.4 758 V741.3 H156 V759.3" fill="none" stroke="#000" stroke-width="1.6"/>
<path d="M161.5 759.3 V741.3 H215.9 V770.4" fill="none" stroke="#000" stroke-width="1.6"/>
<path d="M116.90 703.10L116.90 695.90M113.78 701.30L120.02 697.70M113.78 697.70L120.02 701.30" stroke="#000" stroke-width="1.8" fill="none"/>
<path d="M125.80 703.10L125.80 695.90M122.68 701.30L128.92 697.70M122.68 697.70L128.92 701.30" stroke="#000" stroke-width="1.8" fill="none"/>
<path d="M134.70 703.10L134.70 695.90M131.58 701.30L137.82 697.70M131.58 697.70L137.82 701.30" stroke="#000" stroke-width="1.8" fill="none"/>
<path d="M143.60 703.10L143.60 695.90M140.48 701.30L146.72 697.70M140.48 697.70L146.72 701.30" stroke="#000" stroke-width="1.8" fill="none"/>
<path d="M138.60 734.80L138.60 727.60M135.48 733.00L141.72 729.40M135.48 729.40L141.72 733.00" stroke="#000" stroke-width="1.8" fill="none"/>
<path d="M147.60 734.80L147.60 727.60M144.48 733.00L150.72 729.40M144.48 729.40L150.72 733.00" stroke="#000" stroke-width="1.8" fill="none"/>
<path d="M188.60 734.80L188.60 727.60M185.48 733.00L191.72 729.40M185.48 729.40L191.72 733.00" stroke="#000" stroke-width="1.8" fill="none"/>
<text x="507.4" y="652.7" font-size="14.4" font-weight="bold" text-anchor="middle" fill="#000" >Plate Colony Formation</text>
<text x="507.4" y="669.0" font-size="14.4" font-weight="bold" text-anchor="middle" fill="#000" >HepG2</text>
<line x1="432.0" y1="744.9000000000001" x2="432.0" y2="897.1999999999999" stroke="#000" stroke-width="1.7" />
<line x1="425.7" y1="896.4" x2="432.0" y2="896.4" stroke="#000" stroke-width="1.7" />
<text x="424.09999999999997" y="900.4" font-size="11.3" font-weight="bold" text-anchor="end" fill="#000" >0</text>
<line x1="425.7" y1="858.725" x2="432.0" y2="858.725" stroke="#000" stroke-width="1.7" />
<text x="424.09999999999997" y="862.725" font-size="11.3" font-weight="bold" text-anchor="end" fill="#000" >200</text>
<line x1="425.7" y1="821.05" x2="432.0" y2="821.05" stroke="#000" stroke-width="1.7" />
<text x="424.09999999999997" y="825.05" font-size="11.3" font-weight="bold" text-anchor="end" fill="#000" >400</text>
<line x1="425.7" y1="783.375" x2="432.0" y2="783.375" stroke="#000" stroke-width="1.7" />
<text x="424.09999999999997" y="787.375" font-size="11.3" font-weight="bold" text-anchor="end" fill="#000" >600</text>
<line x1="425.7" y1="745.7" x2="432.0" y2="745.7" stroke="#000" stroke-width="1.7" />
<text x="424.09999999999997" y="749.7" font-size="11.3" font-weight="bold" text-anchor="end" fill="#000" >800</text>
<line x1="431.2" y1="896.4" x2="583.4" y2="896.4" stroke="#000" stroke-width="1.7" />
<rect x="443.20000000000005" y="834.7" width="15.8" height="61.69999999999995" fill="#808080" stroke="#000" stroke-width="2.2" />
<line x1="451.1" y1="817.0" x2="451.1" y2="850.2" stroke="#222" stroke-width="1" />
<line x1="446.25" y1="817.0" x2="455.95000000000005" y2="817.0" stroke="#333" stroke-width="1.2" />
<line x1="446.25" y1="850.2" x2="455.95000000000005" y2="850.2" stroke="#222" stroke-width="1.2" />
<line x1="451.1" y1="896.4" x2="451.1" y2="902.4" stroke="#000" stroke-width="2" />
<circle cx="451.1" cy="814.7" r="3.0" fill="#000"/>
<circle cx="444.40000000000003" cy="832.2" r="3.0" fill="#000"/>
<circle cx="457.20000000000005" cy="832.8" r="3.0" fill="#000"/>
<circle cx="451.1" cy="852.6" r="3.0" fill="#000"/>
<rect x="471.40000000000003" y="807.6" width="15.8" height="88.79999999999998" fill="#a3a3a7" stroke="#000" stroke-width="2.2" />
<line x1="479.3" y1="773.8" x2="479.3" y2="839.2" stroke="#222" stroke-width="1" />
<line x1="474.45" y1="773.8" x2="484.15000000000003" y2="773.8" stroke="#333" stroke-width="1.2" />
<line x1="474.45" y1="839.2" x2="484.15000000000003" y2="839.2" stroke="#222" stroke-width="1.2" />
<line x1="479.3" y1="896.4" x2="479.3" y2="902.4" stroke="#000" stroke-width="2" />
<circle cx="479.3" cy="766.5" r="3.0" fill="#000"/>
<circle cx="479.3" cy="793.4" r="3.0" fill="#000"/>
<circle cx="479.3" cy="826.4" r="3.0" fill="#000"/>
<circle cx="479.3" cy="835.7" r="3.0" fill="#000"/>
<rect x="499.8" y="787.5" width="15.8" height="108.9" fill="#808080" stroke="#000" stroke-width="2.2" />
<line x1="507.7" y1="754.8" x2="507.7" y2="818.0" stroke="#222" stroke-width="1" />
<line x1="502.84999999999997" y1="754.8" x2="512.55" y2="754.8" stroke="#333" stroke-width="1.2" />
<line x1="502.84999999999997" y1="818.0" x2="512.55" y2="818.0" stroke="#222" stroke-width="1.2" />
<line x1="507.7" y1="896.4" x2="507.7" y2="902.4" stroke="#000" stroke-width="2" />
<circle cx="501.3" cy="768.0" r="3.0" fill="#000"/>
<circle cx="514.5" cy="765.0" r="3.0" fill="#000"/>
<circle cx="507.7" cy="778.8" r="3.0" fill="#000"/>
<circle cx="507.7" cy="832.2" r="3.0" fill="#000"/>
<rect x="527.9" y="839.1" width="15.8" height="57.299999999999976" fill="#d6d6d6" stroke="#000" stroke-width="2.2" />
<line x1="535.8" y1="798.6" x2="535.8" y2="877.4" stroke="#222" stroke-width="1" />
<line x1="530.9499999999999" y1="798.6" x2="540.65" y2="798.6" stroke="#333" stroke-width="1.2" />
<line x1="530.9499999999999" y1="877.4" x2="540.65" y2="877.4" stroke="#222" stroke-width="1.2" />
<line x1="535.8" y1="896.4" x2="535.8" y2="902.4" stroke="#000" stroke-width="2" />
<circle cx="529.3" cy="805.3" r="3.0" fill="#000"/>
<circle cx="542.5" cy="802.4" r="3.0" fill="#000"/>
<circle cx="535.8" cy="865.2" r="3.0" fill="#000"/>
<circle cx="535.8" cy="876.0" r="3.0" fill="#000"/>
<rect x="556.2" y="819.3000000000001" width="15.8" height="77.09999999999994" fill="#626262" stroke="#000" stroke-width="2.2" />
<line x1="564.1" y1="777.3" x2="564.1" y2="859.1000000000001" stroke="#222" stroke-width="1" />
<line x1="559.25" y1="777.3" x2="568.95" y2="777.3" stroke="#333" stroke-width="1.2" />
<line x1="559.25" y1="859.1000000000001" x2="568.95" y2="859.1000000000001" stroke="#222" stroke-width="1.2" />
<line x1="564.1" y1="896.4" x2="564.1" y2="902.4" stroke="#000" stroke-width="2" />
<circle cx="564.4" cy="767.1" r="3.0" fill="#000"/>
<circle cx="564.4" cy="803.0" r="3.0" fill="#000"/>
<circle cx="564.4" cy="846.8" r="3.0" fill="#000"/>
<circle cx="564.4" cy="854.1" r="3.0" fill="#000"/>
<text transform="translate(382.0,820.4) rotate(-90)" font-size="12.4" font-weight="bold" text-anchor="middle">Number of Colonies</text>
<text x="453.6" y="912.5" font-size="11.3" font-weight="bold" text-anchor="end" fill="#000" transform="rotate(-45 453.6 912.5)">- (WT)</text>
<text x="481.8" y="912.5" font-size="11.3" font-weight="bold" text-anchor="end" fill="#000" transform="rotate(-45 481.8 912.5)">MBP-3xF</text>
<text x="510.2" y="912.5" font-size="11.3" font-weight="bold" text-anchor="end" fill="#000" transform="rotate(-45 510.2 912.5)">PGRN</text>
<text x="538.3" y="912.5" font-size="11.3" font-weight="bold" text-anchor="end" fill="#000" transform="rotate(-45 538.3 912.5)">GRN-p-5</text>
<text x="566.6" y="912.5" font-size="11.3" font-weight="bold" text-anchor="end" fill="#000" transform="rotate(-45 566.6 912.5)">GRN-p-3</text>
<text x="501.3" y="964.0" font-size="12.5" font-weight="bold" text-anchor="middle" fill="#000" >Overexpression</text>
<path d="M451 713.8 V704.7 H507.4 V713.8" fill="none" stroke="#000" stroke-width="1.6"/>
<path d="M451 745.3 V736.7 H479 V745.3" fill="none" stroke="#000" stroke-width="1.6"/>
<path d="M465.70 698.50L465.70 691.30M462.58 696.70L468.82 693.10M462.58 693.10L468.82 696.70" stroke="#000" stroke-width="1.8" fill="none"/>
<path d="M474.60 698.50L474.60 691.30M471.48 696.70L477.72 693.10M471.48 693.10L477.72 696.70" stroke="#000" stroke-width="1.8" fill="none"/>
<path d="M483.30 698.50L483.30 691.30M480.18 696.70L486.42 693.10M480.18 693.10L486.42 696.70" stroke="#000" stroke-width="1.8" fill="none"/>
<path d="M492.20 698.50L492.20 691.30M489.08 696.70L495.32 693.10M489.08 693.10L495.32 696.70" stroke="#000" stroke-width="1.8" fill="none"/>
<path d="M460.30 730.50L460.30 723.30M457.18 728.70L463.42 725.10M457.18 725.10L463.42 728.70" stroke="#000" stroke-width="1.8" fill="none"/>
<path d="M469.30 730.50L469.30 723.30M466.18 728.70L472.42 725.10M466.18 725.10L472.42 728.70" stroke="#000" stroke-width="1.8" fill="none"/>
</svg>
</body></html>
